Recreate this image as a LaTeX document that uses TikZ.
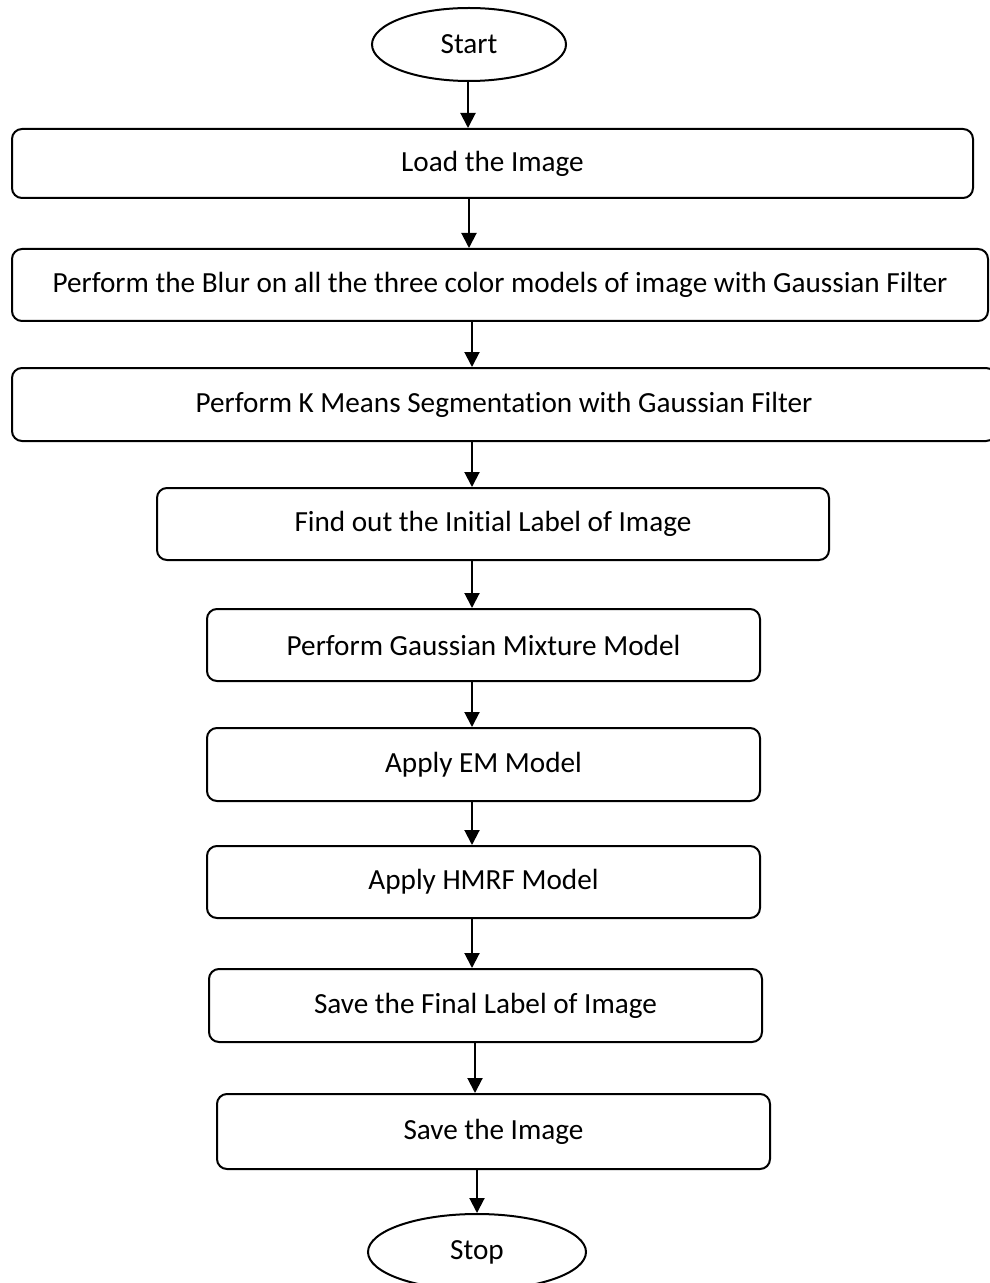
\documentclass[tikz,border=0pt]{standalone}
\usepackage{fontspec}
\setmainfont{Carlito}[Ligatures=NoCommon]
\usetikzlibrary{arrows.meta,shapes.geometric}

\begin{document}
\begin{tikzpicture}[x=.5pt,y=-.5pt,>={Triangle[width=7.5pt,length=7.5pt]},
 font=\fontsize{14.6}{17}\selectfont,line width=1pt]
\tikzset{box/.style={draw,rounded corners=5pt,inner sep=0pt},
 term/.style={draw,ellipse,inner sep=0pt}}
\useasboundingbox (0,0) rectangle (989,1283);
\node[term,minimum width=97pt,minimum height=36.5pt] (start) at (469,44.5) {Start};
\foreach \name/\l/\t/\r/\b/\txt in {
 load/12/129/973/198/{Load the Image},
 blur/12/249/988/321/{Perform the Blur on all the three color models of image with Gaussian Filter},
 kmeans/12/368/996/441/{Perform K Means Segmentation with Gaussian Filter},
 init/157/488/829/560/{Find out the Initial Label of Image},
 gmm/207/609/760/681/{Perform Gaussian Mixture Model},
 em/207/728/760/801/{Apply EM Model},
 hmrf/207/846/760/918/{Apply HMRF Model},
 final/209/969/762/1042/{Save the Final Label of Image},
 save/217/1094/770/1169/{Save the Image}}{
 \node[box,minimum width={(\r-\l)*.5pt},minimum height={(\b-\t)*.5pt}]
  (\name) at ({(\l+\r)/2},{(\t+\b)/2}) {\txt};
}
\node[term,minimum width=109pt,minimum height=38pt] (stop) at (477,1252) {Stop};
% flow
\foreach \a/\b/\x in {start/load/468,load/blur/469,blur/kmeans/472,kmeans/init/472,
 init/gmm/472,gmm/em/472,em/hmrf/472,hmrf/final/472,final/save/475,save/stop/477}
 \draw[->] (\x,0 |- \a.south) -- (\x,0 |- \b.north);
\end{tikzpicture}
\end{document}
